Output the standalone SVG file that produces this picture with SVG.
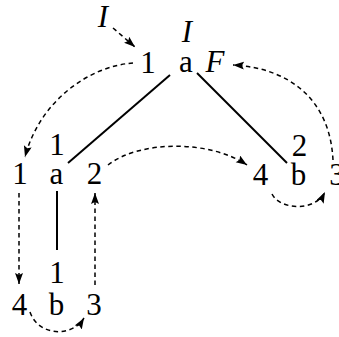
<svg xmlns="http://www.w3.org/2000/svg" width="339" height="337" viewBox="0 0 339 337">
<style>
text{font-family:"Liberation Serif","Times New Roman",serif;font-size:31px;fill:#000;text-anchor:middle}
.it{font-style:italic}
.edge{stroke:#000;stroke-width:2;fill:none}
.arr{stroke:#000;stroke-width:1.5;fill:none;stroke-dasharray:4.5 3.5;marker-end:url(#ah)}
</style>
<defs>
<marker id="ah" markerUnits="userSpaceOnUse" markerWidth="13" markerHeight="10" refX="11" refY="4" orient="auto">
<path d="M0,0 L11,4 L0,8 L2,4 Z" fill="#000"/>
</marker>
</defs>
<rect width="339" height="337" fill="#fff"/>
<g id="connectors">
<line class="edge" x1="170" y1="75" x2="68" y2="163"/>
<line class="edge" x1="197" y1="73" x2="287" y2="163"/>
<line class="edge" x1="57" y1="191" x2="57" y2="250"/>
<path class="arr" d="M113,28 L135,47"/>
<path class="arr" d="M133,63 C90,66 40,100 25,157"/>
<path class="arr" d="M108,165 C140,140 210,140 247,165"/>
<path class="arr" d="M272,194 C280,210 315,212 325,192"/>
<path class="arr" d="M333,160 C330,100 290,68 233,65"/>
<path class="arr" d="M19,193 L19,284"/>
<path class="arr" d="M95,285 L95,193"/>
<path class="arr" d="M30,312 C38,336 72,338 84,318"/>
</g>
<g id="init"><text class="it" x="103" y="27">I</text></g>
<g id="root">
<text class="it" x="187" y="42">I</text>
<text x="148" y="73">1</text>
<text x="186" y="72">a</text>
<text class="it" x="215" y="72">F</text>
</g>
<g id="left-a">
<text x="57" y="155">1</text>
<text x="20" y="184">1</text>
<text x="56.5" y="184">a</text>
<text x="94.5" y="184">2</text>
</g>
<g id="left-b">
<text x="57" y="283">1</text>
<text x="19.5" y="315">4</text>
<text x="56.5" y="315">b</text>
<text x="94" y="315">3</text>
</g>
<g id="right-b">
<text x="299.5" y="156">2</text>
<text x="260.5" y="185">4</text>
<text x="298.5" y="185">b</text>
<text x="337" y="185">3</text>
</g>
</svg>
